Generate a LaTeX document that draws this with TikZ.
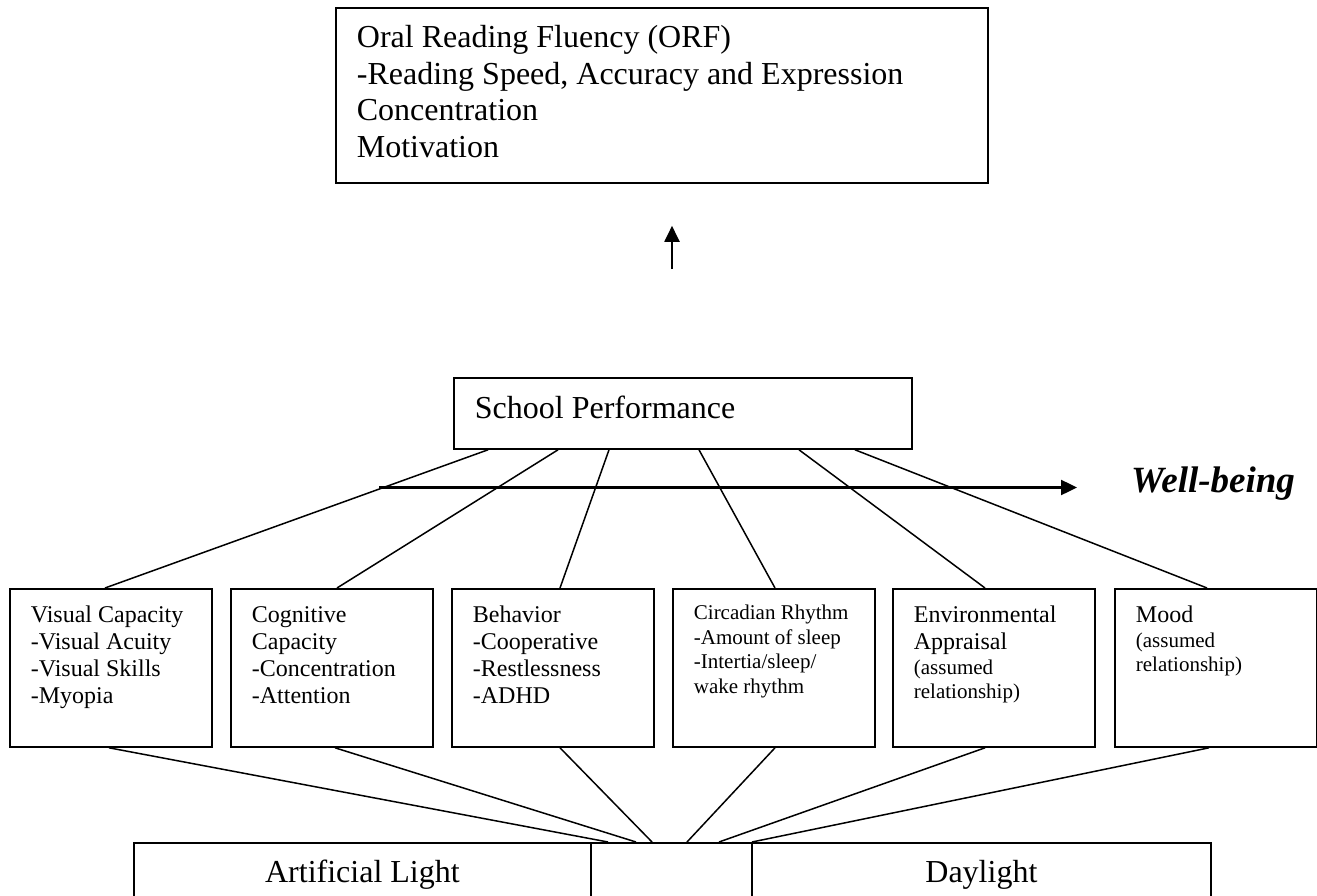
\documentclass[tikz,border=0pt]{standalone}
\usepackage{fontspec}
\setmainfont{Liberation Serif}
\usetikzlibrary{arrows.meta,calc}
\newcommand\szA{\fontsize{32}{36.8}\selectfont}
\newcommand\szB{\fontsize{24}{27}\selectfont}
\newcommand\szC{\fontsize{21}{24.4}\selectfont}
\begin{document}
\begin{tikzpicture}[x=1pt,y=-1pt,
  every node/.style={execute at begin node={\spaceskip=0pt\xspaceskip=0pt}},
  box/.style={draw, line width=1.8pt, inner ysep=0pt, anchor=north west, align=flush left},
  midbox/.style={box, font=\szB, inner xsep=21pt, text width=160pt, text depth=158pt-#1, text height=#1},
  lowbox/.style={draw, line width=1.8pt, inner sep=0pt, anchor=north west, align=flush center, font=\szA, text height=40pt, text depth=20pt},
  ln/.style={line width=1.5pt},
  arr/.style={line width=2.4pt, -{Triangle[length=16pt,width=15pt]}}]
\useasboundingbox (0,0) rectangle (1317,896);
% top box
\node[box, font=\szA, inner xsep=21pt, text width=610pt, text height=39.5pt, text depth=135.5pt] (orf) at (335,7)
  {Oral Reading Fluency (ORF)\\-Reading Speed, Accuracy and Expression\\Concentration\\Motivation};
% up arrow
\coordinate (upA) at (672,269);
\draw[arr, line width=2pt] (upA) -- (upA |- orf.south) [shorten >=42pt];
% school performance
\node[box, font=\szA, inner xsep=21pt, text width=416pt, text height=41pt, text depth=30pt] (sp) at (453,377) {School Performance};
% middle boxes
\node[midbox=34pt] (b1) at (9,588) {Visual Capacity\\-Visual Acuity\\-Visual Skills\\-Myopia};
\node[midbox=34pt] (b2) at (230,588) {Cognitive\\Capacity\\-Concentration\\-Attention};
\node[midbox=34pt] (b3) at (451,588) {Behavior\\-Cooperative\\-Restlessness\\-ADHD};
\node[midbox=31pt, font=\szC] (b4) at (672,588) {Circadian Rhythm\\-Amount of sleep\\-Intertia/sleep/\\wake rhythm};
\node[midbox=34pt] (b5) at (892,588) {Environmental\\Appraisal\par{\szC (assumed\\relationship)\par}};
\node[midbox=34pt] (b6) at (1114,588) {Mood\par{\szC (assumed\\relationship)\par}};
% bottom boxes
\node[lowbox, text width=457pt] (al) at (133,842) {Artificial Light};
\node[lowbox, text width=161pt] (mid) at (590,842) {};
\node[lowbox, text width=459pt] (dl) at (751,842) {Daylight};
% well-being
\node[font=\fontsize{37}{40}\selectfont\bfseries\itshape, anchor=base west, inner sep=0pt] (wb) at (1131,492) {Well-being};
\coordinate (wbs) at (379,487.5);
% connectors school performance -> boxes
\draw[ln] ($(sp.south west)+(35,0)$) -- ($(b1.north west)+(96,0)$);
\draw[ln] ($(sp.south west)+(105,0)$) -- ($(b2.north west)+(107,0)$);
\draw[ln] ($(sp.south west)+(156,0)$) -- ($(b3.north west)+(109,0)$);
\draw[ln] ($(sp.south west)+(246,0)$) -- ($(b4.north west)+(103,0)$);
\draw[ln] ($(sp.south west)+(346,0)$) -- ($(b5.north west)+(93,0)$);
\draw[ln] ($(sp.south west)+(402,0)$) -- ($(b6.north west)+(93,0)$);
% well-being arrow
\draw[arr] (wbs) -- (wbs -| wb.west) [shorten >=54pt];
% connectors boxes -> light
\draw[ln] ($(b1.south west)+(100,0)$) -- ($(mid.north west)+(18,0)$);
\draw[ln] ($(b2.south west)+(105,0)$) -- ($(mid.north west)+(46,0)$);
\draw[ln] ($(b3.south west)+(109,0)$) -- ($(mid.north west)+(62,0)$);
\draw[ln] ($(b4.south west)+(103,0)$) -- ($(mid.north west)+(97,0)$);
\draw[ln] ($(b5.south west)+(93,0)$) -- ($(mid.north west)+(129,0)$);
\draw[ln] ($(b6.south west)+(95,0)$) -- ($(mid.north west)+(162,0)$);
\end{tikzpicture}
\end{document}
